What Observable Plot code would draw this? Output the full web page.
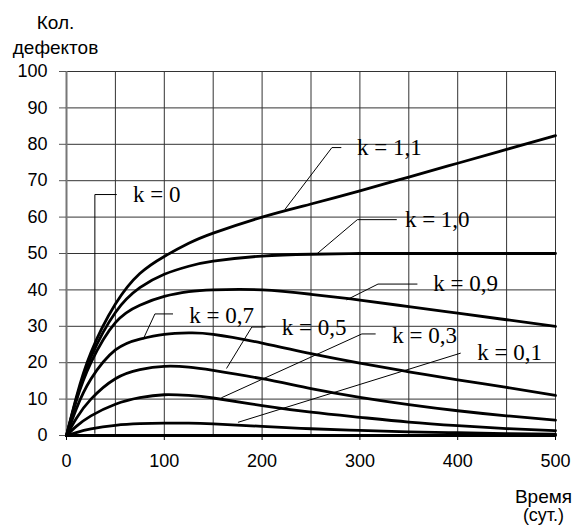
<!DOCTYPE html>
<html>
<head>
<meta charset="utf-8">
<script src="https://cdn.jsdelivr.net/npm/d3@7"></script>
<script src="https://cdn.jsdelivr.net/npm/@observablehq/plot@0.6"></script>
<style>
  html, body { margin: 0; padding: 0; background: #fff; }
  #chart { width: 574px; height: 525px; }
</style>
</head>
<body>
<div id="chart"></div>
<script>
// ---- Data ----
const time = [0, 10, 25, 50, 75, 100, 125, 150, 200, 250, 300, 350, 400, 450, 500];
const k00 = [0, 0, 0, 0, 0, 0, 0, 0, 0, 0, 0, 0, 0, 0, 0];
const k01 = [0, 0.8, 1.8, 2.8, 3.25, 3.4, 3.4, 3.2, 2.5, 1.85, 1.4, 1.0, 0.75, 0.5, 0.35];
const k03 = [0, 2.5, 5.4, 8.6, 10.4, 11.2, 11.0, 10.3, 8.2, 6.4, 5.0, 3.7, 2.7, 1.9, 1.3];
const k05 = [0, 4.7, 10.0, 15.6, 18.1, 19.0, 18.8, 17.9, 15.6, 12.9, 10.5, 8.5, 6.8, 5.4, 4.2];
const k07 = [0, 7.3, 15.5, 23.5, 26.5, 27.8, 28.2, 27.8, 25.4, 22.5, 19.9, 17.5, 15.3, 13.2, 11.0];
const k09 = [0, 9.5, 20.0, 31.0, 35.8, 38.2, 39.5, 40.0, 40.0, 38.8, 37.2, 35.4, 33.6, 31.8, 30.0];
const k10 = [0, 10.0, 21.5, 33.8, 40.6, 44.3, 46.5, 47.9, 49.3, 49.8, 50, 50, 50, 50, 50];
const k11 = [0, 10.5, 22.8, 36.1, 44.5, 49.2, 52.8, 55.6, 60.0, 63.6, 67.2, 71.0, 74.8, 78.6, 82.4];
const seriesValues = [k00, k01, k03, k05, k07, k09, k10, k11];

const xTicks = [0, 100, 200, 300, 400, 500];
const yTicks = [0, 10, 20, 30, 40, 50, 60, 70, 80, 90, 100];
const xGrid = [50, 100, 150, 200, 250, 300, 350, 400, 450, 500];
const yGrid = [10, 20, 30, 40, 50, 60, 70, 80, 90, 100];

// curve labels (data coordinates)
const labelText = ["k = 0", "k = 1,1", "k = 1,0", "k = 0,9", "k = 0,7", "k = 0,5", "k = 0,3", "k = 0,1"];
const labelX = [68, 297, 346, 375, 125.6, 220, 333, 420];
const labelY = [66.2, 79.2, 59.3, 41.6, 32.9, 29.7, 27.4, 22.8];

// leader lines (data coordinates), one polyline per label
const leaderX = [
  [51, 29, 29],
  [223.6, 271.4, 280.6],
  [256, 297.4, 337.3],
  [286.7, 318.5, 358.4],
  [78.5, 90.4, 108.5],
  [163.8, 189.5, 203],
  [158.7, 302, 315.7],
  [175.7, 402.7]
];
const leaderY = [
  [66.2, 66.2, 0.6],
  [62.2, 79.1, 79.1],
  [49.9, 59.3, 59.3],
  [37.3, 41.6, 41.6],
  [26.5, 33.4, 33.4],
  [18.5, 29.8, 29.8],
  [10.4, 27.9, 27.9],
  [3.65, 22.6]
];

const yTitle = ["Кол.", "дефектов"];
const xTitle = ["Время", "(сут.)"];

// ---- Build tables ----
const curves = [];
seriesValues.forEach((vals, s) => {
  vals.forEach((v, i) => curves.push({s, t: time[i], v}));
});
const leaders = [];
leaderX.forEach((xs, s) => xs.forEach((x, i) => leaders.push({s, x, y: leaderY[s][i]})));
const labels = labelText.map((text, i) => ({text, x: labelX[i], y: labelY[i]}));

const chart = Plot.plot({
  width: 574,
  height: 525,
  marginLeft: 66,
  marginRight: 19,
  marginTop: 71,
  marginBottom: 90,
  style: {fontFamily: "'Liberation Sans', Arial, sans-serif", fontSize: "18px", background: "#fff", color: "#000"},
  x: {domain: [0, 500]},
  y: {domain: [0, 100]},
  marks: [
    Plot.ruleX(xGrid, {stroke: "#333", strokeWidth: 1}),
    Plot.ruleY(yGrid, {stroke: "#333", strokeWidth: 1, x1: 0, x2: 500}),
    Plot.ruleX([0], {stroke: "#777", strokeWidth: 2}),
    Plot.axisY({ticks: yTicks, tickSize: 7, tickPadding: 12, label: null, stroke: "#555", fontSize: 18}),
    Plot.axisX({ticks: xTicks, tickSize: 5, tickPadding: 14, label: null, stroke: "#000", fontSize: 18}),
    Plot.line(curves, {x: "t", y: "v", z: "s", curve: "natural", stroke: "#000", strokeWidth: 2.8}),
    Plot.ruleY([0], {stroke: "#000", strokeWidth: 2.5}),
    Plot.line(leaders, {x: "x", y: "y", z: "s", stroke: "#000", strokeWidth: 1}),
    Plot.text(labels, {x: "x", y: "y", text: "text", textAnchor: "start", lineAnchor: "middle",
      fontFamily: "'Liberation Serif', 'Times New Roman', serif", fontSize: 23, fill: "#000"}),
    Plot.text([yTitle[0]], {frameAnchor: "top-left", dx: -11, dy: -49, textAnchor: "middle", lineAnchor: "middle", fontSize: 19}),
    Plot.text([yTitle[1]], {frameAnchor: "top-left", dx: -11, dy: -24, textAnchor: "middle", lineAnchor: "middle", fontSize: 19}),
    Plot.text([xTitle[0]], {frameAnchor: "bottom-right", dx: -12, dy: 61, textAnchor: "middle", lineAnchor: "middle", fontSize: 19}),
    Plot.text([xTitle[1]], {frameAnchor: "bottom-right", dx: -12, dy: 80, textAnchor: "middle", lineAnchor: "middle", fontSize: 18})
  ]
});
document.getElementById("chart").append(chart);
</script>
</body>
</html>
